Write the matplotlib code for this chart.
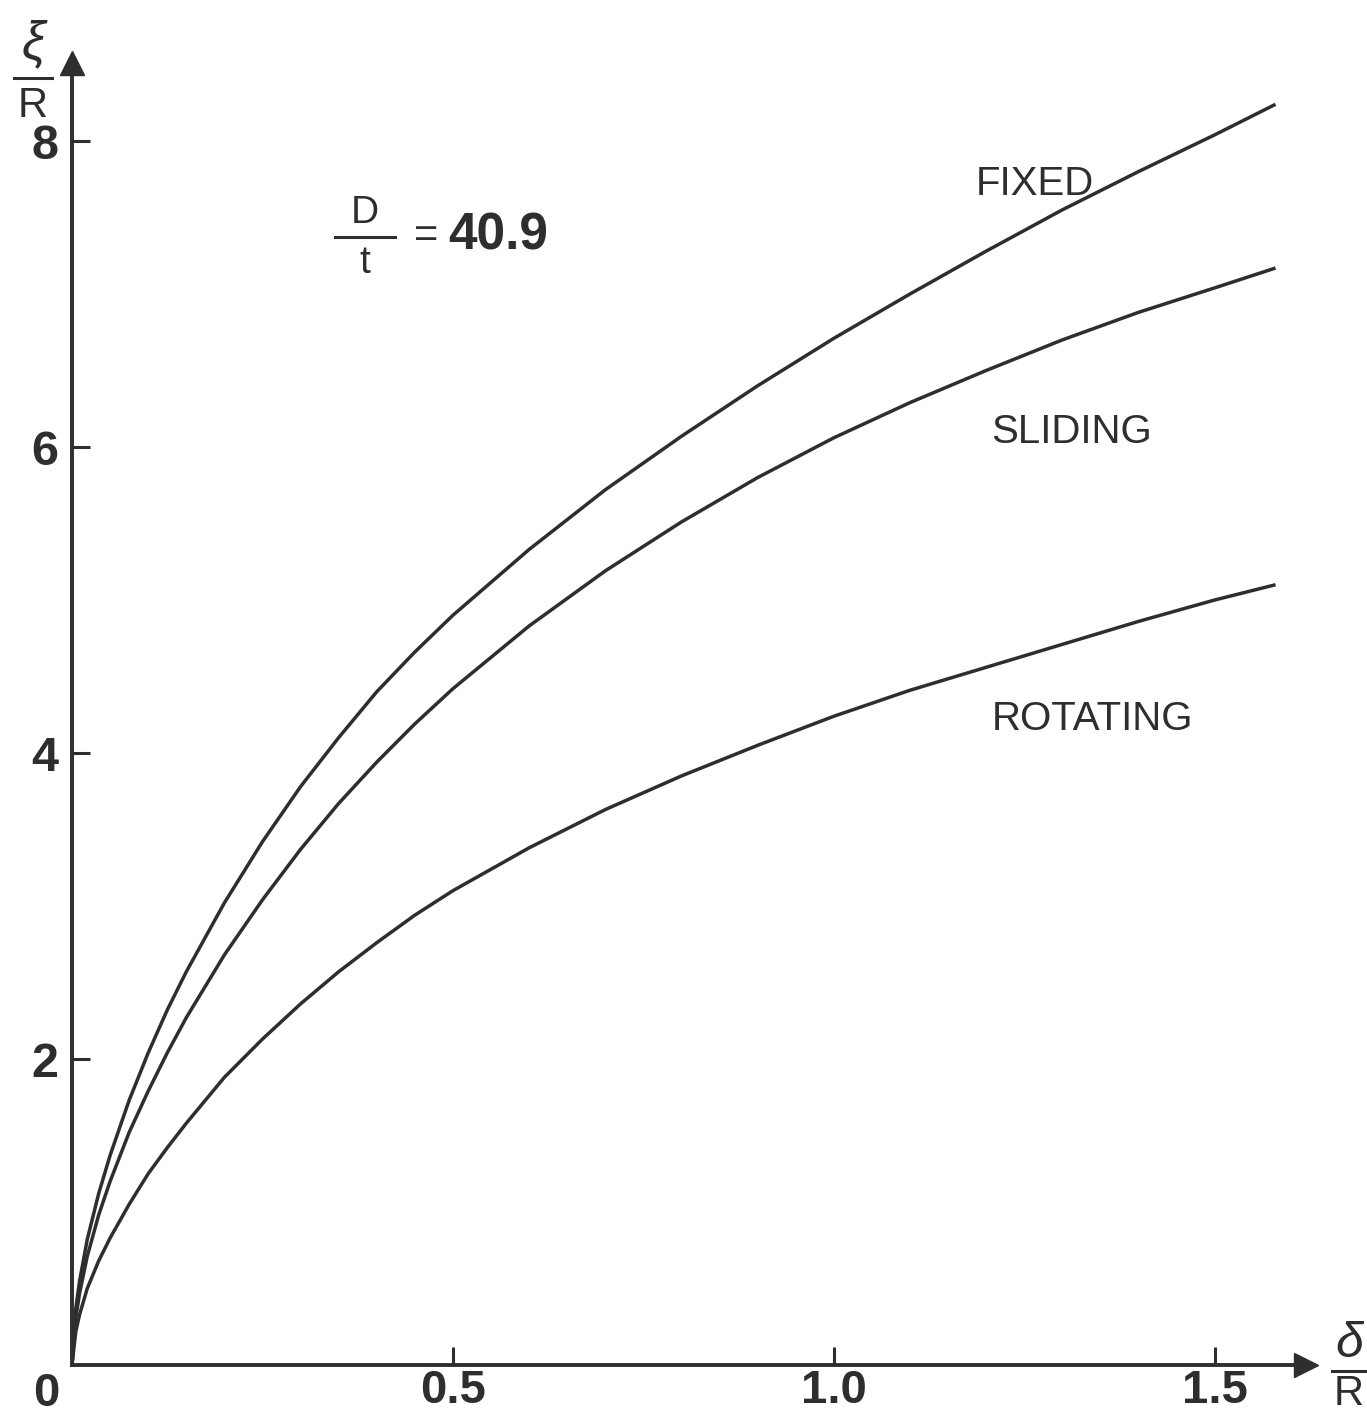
import numpy as np
import matplotlib.pyplot as plt
from matplotlib.lines import Line2D

plt.rcParams['font.family'] = ['Liberation Sans', 'DejaVu Sans']

# ---------- data ----------
delta = [0, 0.005, 0.01, 0.02, 0.035, 0.05, 0.075, 0.1, 0.125, 0.15, 0.2, 0.25,
         0.3, 0.35, 0.4, 0.45, 0.5, 0.6, 0.7, 0.8, 0.9, 1.0, 1.1, 1.2, 1.3,
         1.4, 1.5, 1.58]
fixed = [0, 0.37, 0.55, 0.82, 1.12, 1.37, 1.73, 2.04, 2.32, 2.57, 3.02, 3.42,
         3.78, 4.1, 4.4, 4.66, 4.9, 5.33, 5.72, 6.07, 6.4, 6.71, 7.0, 7.28, 7.55,
         7.8, 8.04, 8.24]
sliding = [0, 0.31, 0.47, 0.71, 0.98, 1.2, 1.52, 1.79, 2.04, 2.27, 2.68, 3.04,
           3.37, 3.67, 3.94, 4.19, 4.42, 4.83, 5.19, 5.51, 5.8, 6.06, 6.29, 6.5,
           6.7, 6.88, 7.04, 7.17]
rotating = [0, 0.22, 0.33, 0.5, 0.68, 0.83, 1.05, 1.25, 1.42, 1.58, 1.88, 2.13,
            2.36, 2.57, 2.76, 2.94, 3.1, 3.38, 3.63, 3.85, 4.05, 4.24, 4.41, 4.56,
            4.71, 4.86, 5.0, 5.1]

xticks = [0.5, 1.0, 1.5]
xtick_labels = ['0.5', '1.0', '1.5']
yticks = [2, 4, 6, 8]
ytick_labels = ['2', '4', '6', '8']

curve_labels = ['FIXED', 'SLIDING', 'ROTATING']
label_pos = [(1.187, 7.72), (1.207, 6.1), (1.207, 4.22)]

W, H = 1367, 1418
ink = '#2e2e2e'

fig = plt.figure(figsize=(W / 100, H / 100), dpi=100)
# axes: origin at pixel (72, 1365)
ax = fig.add_axes([72 / W, (H - 1365) / H, 1234 / W, 1302 / H])
ax.set_xlim(0, 1.62)
ax.set_ylim(0, 8.51)

for ys in (fixed, sliding, rotating):
    ax.plot(delta, ys, color=ink, lw=2.5, solid_capstyle='butt', solid_joinstyle='round')

for name, (lx, ly) in zip(curve_labels, label_pos):
    ax.text(lx, ly, name, fontsize=29, color=ink, va='center', ha='left')

# axes look: only left & bottom with arrow heads
for s in ('top', 'right'):
    ax.spines[s].set_visible(False)
for s in ('left', 'bottom'):
    ax.spines[s].set_linewidth(2.8)
    ax.spines[s].set_color(ink)
ax.plot(1, 0, '>', color=ink, ms=17, transform=ax.get_yaxis_transform(), clip_on=False)
ax.plot(0, 1, '^', color=ink, ms=17, transform=ax.get_xaxis_transform(), clip_on=False)

ax.set_xticks(xticks)
ax.set_xticklabels(xtick_labels, fontsize=34, fontweight='bold', color=ink)
ax.set_yticks(yticks)
ax.set_yticklabels(ytick_labels, fontsize=35, fontweight='bold', color=ink)
ax.tick_params(axis='both', direction='in', length=13, width=2.2, color=ink)
ax.tick_params(axis='x', pad=3)
ax.tick_params(axis='y', pad=10)

# origin "0"
fig.text(46 / W, 1 - 1394 / H, '0', fontsize=34, fontweight='bold', color=ink,
         ha='center', va='center')

# axis labels as stacked fractions
def frac(xc, ytop, ybot, yline, top, bot, half, size_top, size_bot, top_style='normal'):
    fig.text(xc / W, 1 - ytop / H, top, fontsize=size_top, color=ink, ha='center',
             va='center', style=top_style)
    fig.text(xc / W, 1 - ybot / H, bot, fontsize=size_bot, color=ink, ha='center', va='center')
    fig.add_artist(Line2D([(xc - half) / W, (xc + half) / W], [1 - yline / H] * 2,
                          color=ink, lw=2.2, transform=fig.transFigure))

frac(33, 44, 106, 78, 'ξ', 'R', 19, 38, 30, 'italic')
frac(1349, 1344, 1394, 1371, 'δ', 'R', 17, 36, 30, 'italic')
frac(365, 213, 263, 237, 'D', 't', 30, 28, 28)

fig.text(414 / W, 1 - 236 / H, '=', fontsize=30, color=ink, ha='left', va='center')
fig.text(448 / W, 1 - 236 / H, '40.9', fontsize=37, fontweight='bold', color=ink,
         ha='left', va='center')

fig.savefig('out.png', dpi=100, facecolor='white')
